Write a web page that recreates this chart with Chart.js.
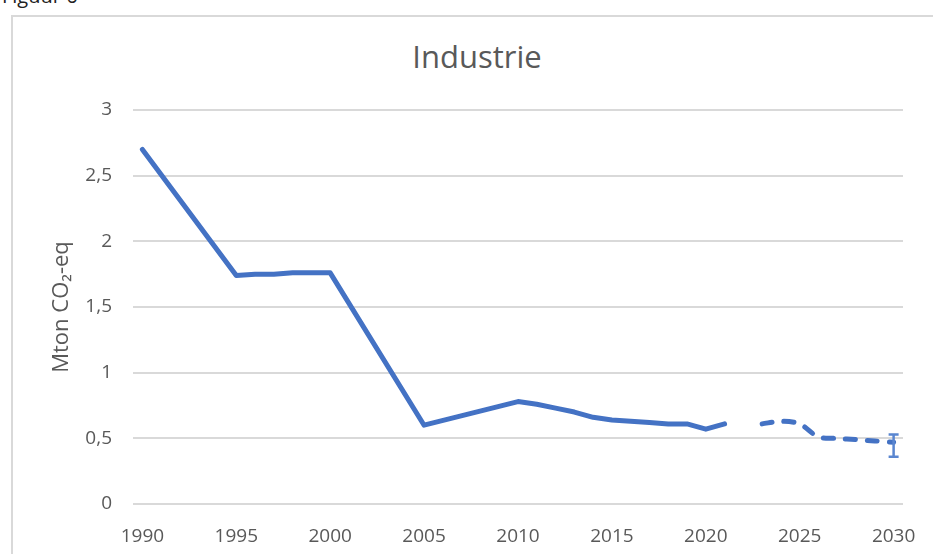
<!DOCTYPE html>
<html>
<head>
<meta charset="utf-8">
<script src="https://cdn.jsdelivr.net/npm/chart.js@4"></script>
<style>
  html, body { margin: 0; padding: 0; background: #fff; overflow: hidden; }
  #page { position: relative; width: 933px; height: 554px; overflow: hidden; }
  #caption { position: absolute; left: 2px; top: -18px; font: 20px 'Open Sans', sans-serif; color: #222; }
  #frame { position: absolute; left: 11px; top: 15px; width: 960px; height: 600px; border: 2px solid #d9d9d9; box-sizing: border-box; }
  #title { position: absolute; left: 0; width: 954px; top: 35px; text-align: center; font: 31px 'Open Sans', sans-serif; color: #595959; }
  #chart { position: absolute; left: 0; top: 0; }
</style>
</head>
<body>
<div id="page">
  <div id="caption">Figuur 6</div>
  <div id="frame"></div>
  <div id="title">Industrie</div>
  <canvas id="chart" width="933" height="554"></canvas>
</div>
<script>
const years = [
  '1990', '1991', '1992', '1993', '1994', '1995', '1996', '1997', '1998', '1999',
  '2000', '2001', '2002', '2003', '2004', '2005', '2006', '2007', '2008', '2009',
  '2010', '2011', '2012', '2013', '2014', '2015', '2016', '2017', '2018', '2019',
  '2020', '2021', '2022', '2023', '2024', '2025', '2026', '2027', '2028', '2029',
  '2030'
];

// Historical emissions (Mton CO2-eq), gaps where no yearly figure is drawn
const historic = [
  2.70, null, null, null, null, 1.74, 1.75, 1.75, 1.76, 1.76,
  1.76, null, null, null, null, 0.60, null, null, null, null,
  0.78, 0.76, 0.73, 0.70, 0.66, 0.64, 0.63, 0.62, 0.61, 0.61,
  0.57, 0.61, null, null, null, null, null, null, null, null,
  null
];

// Projection
const projection = [
  null, null, null, null, null, null, null, null, null, null,
  null, null, null, null, null, null, null, null, null, null,
  null, null, null, null, null, null, null, null, null, null,
  null, null, null, 0.61, 0.63, 0.61, 0.51, 0.50, 0.49, 0.48,
  0.47
];

// Uncertainty range for 2030
const errorYears = ['2030'];
const errorLow = [0.36];
const errorHigh = [0.53];

const yTicks = [0, 0.5, 1, 1.5, 2, 2.5, 3];

const lineColor = '#4472C4';
const textColor = '#595959';
const gridColor = '#d9d9d9';

Chart.defaults.font.family = "'Open Sans', sans-serif";
Chart.defaults.color = textColor;

const errorBarPlugin = {
  id: 'errorBars',
  afterDatasetsDraw(chart) {
    const { ctx, scales: { x, y } } = chart;
    ctx.save();
    ctx.strokeStyle = '#5a86d0';
    ctx.lineWidth = 2.5;
    errorYears.forEach((yr, i) => {
      const px = x.getPixelForValue(years.indexOf(yr));
      const top = y.getPixelForValue(errorHigh[i]);
      const bottom = y.getPixelForValue(errorLow[i]);
      const half = 5;
      ctx.beginPath();
      ctx.moveTo(px, top);
      ctx.lineTo(px, bottom);
      ctx.moveTo(px - half, top);
      ctx.lineTo(px + half, top);
      ctx.moveTo(px - half, bottom);
      ctx.lineTo(px + half, bottom);
      ctx.stroke();
    });
    ctx.restore();
  }
};

const config = {
  type: 'line',
  data: {
    labels: years,
    datasets: [
      {
        label: 'Historisch',
        data: historic,
        borderColor: lineColor,
        borderWidth: 5,
        pointRadius: 0,
        spanGaps: true,
        tension: 0,
        borderJoinStyle: 'round',
        borderCapStyle: 'round'
      },
      {
        label: 'Projectie',
        data: projection,
        borderColor: lineColor,
        borderWidth: 5,
        pointRadius: 0,
        borderDash: [10, 12],
        borderCapStyle: 'round',
        borderJoinStyle: 'round',
        tension: 0.3
      }
    ]
  },
  options: {
    responsive: false,
    animation: false,
    devicePixelRatio: 1,
    layout: {
      padding: { left: 22, right: 30, top: 110, bottom: 0 }
    },
    plugins: {
      legend: { display: false },
      tooltip: { enabled: false },
      title: { display: false }
    },
    scales: {
      x: {
        offset: true,
        grid: { display: false, drawTicks: false },
        border: { display: false },
        ticks: {
          autoSkip: false,
          maxRotation: 0,
          padding: 21,
          font: { size: 19 },
          color: textColor,
          callback: function (value, index) {
            return index % 5 === 0 ? years[index] : '';
          }
        },
        afterFit: (scale) => {
          scale.height = 50;
          scale.paddingLeft = 0;
          scale.paddingRight = 0;
        }
      },
      y: {
        min: 0,
        max: 3,
        afterBuildTicks: (scale) => { scale.ticks = yTicks.map(v => ({ value: v })); },
        grid: { color: gridColor, lineWidth: 2, drawTicks: false },
        border: { display: false },
        ticks: {
          padding: 21,
          font: { size: 19 },
          color: textColor,
          callback: (value) => String(value).replace('.', ',')
        },
        title: {
          display: true,
          text: 'Mton CO₂-eq',
          color: textColor,
          font: { size: 22 },
          padding: { top: 27, bottom: 0 }
        },
        afterFit: (scale) => { scale.width = 111; }
      }
    }
  },
  plugins: [errorBarPlugin]
};

new Chart(document.getElementById('chart'), config);
</script>
</body>
</html>
